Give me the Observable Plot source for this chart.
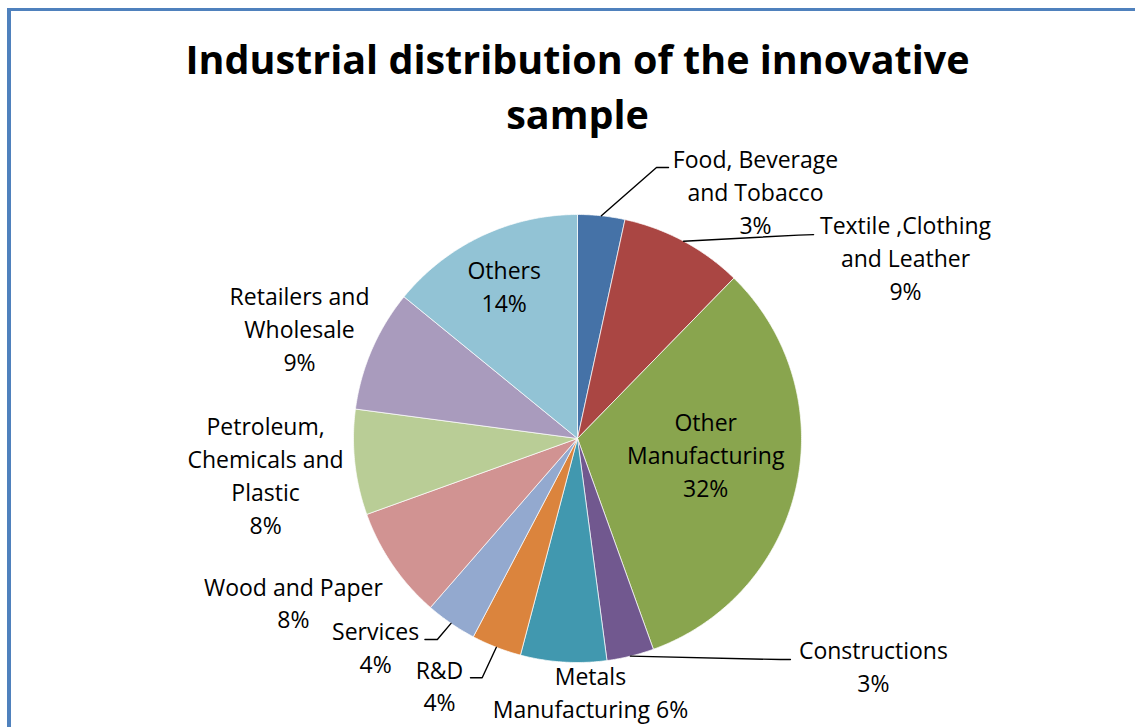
<!DOCTYPE html>
<html>
<head>
<meta charset="utf-8">
<script src="https://cdn.jsdelivr.net/npm/d3@7"></script>
<script src="https://cdn.jsdelivr.net/npm/@observablehq/plot@0.6"></script>
<style>
  html, body { margin: 0; padding: 0; background: #fff; overflow: hidden; }
  #chart { position: absolute; left: 0; top: 0; }
  #border { position: absolute; left: 7px; top: 8px; width: 1140px; height: 716px;
    border-left: 4px solid #4F81BD; border-top: 3px solid #4F81BD; border-bottom: 1px solid #8EB4E3;
    border-right: none; pointer-events: none; box-sizing: content-box; }
</style>
</head>
<body>
<div id="chart"></div>
<div id="border"></div>
<script>
// ---- data ----
const title = "Industrial distribution of the innovative\nsample";
const categories = [
  "Food, Beverage and Tobacco",
  "Textile ,Clothing and Leather",
  "Other Manufacturing",
  "Constructions",
  "Metals Manufacturing",
  "R&D",
  "Services",
  "Wood and Paper",
  "Petroleum, Chemicals and Plastic",
  "Retailers and Wholesale",
  "Others"
];
const shares = [3.4, 8.9, 32.2, 3.4, 6.2, 3.6, 3.7, 8.1, 7.6, 8.8, 14.1];
const colors = ["#4572A7", "#AA4643", "#89A54E", "#71588F", "#4198AF", "#DB843D",
                "#93A9CF", "#D19392", "#B9CD96", "#A99BBD", "#92C3D5"];

// ---- label layout (wrapping, polar placement in pie radii, leader offsets in px) ----
const labelLayout = [
  {text: "Food, Beverage\nand Tobacco", sep: "\n", angle: 36.0, r: 1.352, leader: [[-99, -26], [-87, -26]]},
  {text: "Textile ,Clothing\nand Leather", sep: "\n", angle: 61.4, r: 1.668, leader: [[-107, -24.5], [-92, -25]]},
  {text: "Other\nManufacturing", sep: "\n", angle: 98.0, r: 0.578},
  {text: "Constructions", sep: "\n", angle: 127.8, r: 1.672, leader: [[-93, -8.5], [-83, -8.5]]},
  {text: "Metals\nManufacturing", sep: " ", angle: 177.1, r: 1.142},
  {text: "R&D", sep: "\n", angle: 209.0, r: 1.271, leader: [[42.7, -9.7], [31, -9.7]]},
  {text: "Services", sep: "\n", angle: 223.8, r: 1.302, leader: [[61.7, -9.5], [49.3, -9.5]]},
  {text: "Wood and Paper", sep: "\n", angle: 239.7, r: 1.469},
  {text: "Petroleum,\nChemicals and\nPlastic", sep: "\n", angle: 263.0, r: 1.403},
  {text: "Retailers and\nWholesale", sep: "\n", angle: 291.2, r: 1.331},
  {text: "Others", sep: "\n", angle: 334.1, r: 0.749}
];

// ---- geometry ----
const W = 1135, H = 727, CX = 577, CY = 438, R = 224;
const rows = categories.map((name, i) => ({name, share: shares[i], layout: labelLayout[i]}));
const arcs = d3.pie().sort(null).value(d => d.share)(rows);

const slicePts = arcs.flatMap(a => {
  const n = Math.max(2, Math.ceil((a.endAngle - a.startAngle) / (Math.PI / 360)));
  const pts = [{name: a.data.name, x: 0, y: 0}];
  for (let i = 0; i <= n; i++) {
    const t = a.startAngle + (a.endAngle - a.startAngle) * i / n;
    pts.push({name: a.data.name, x: Math.sin(t), y: Math.cos(t)});
  }
  pts.push({name: a.data.name, x: 0, y: 0});
  return pts;
});

const rad = d => d * Math.PI / 180;
const labels = rows.map(d => {
  const L = d.layout;
  return {
    name: d.name,
    x: L.r * Math.sin(rad(L.angle)),
    y: L.r * Math.cos(rad(L.angle)),
    text: L.text + L.sep + Math.round(d.share) + "%"
  };
});

const leaderPts = arcs.flatMap((a, i) => {
  const L = rows[i].layout;
  if (!L.leader) return [];
  const mid = (a.startAngle + a.endAngle) / 2;
  const lab = labels[i];
  const pts = [{name: a.data.name, x: Math.sin(mid), y: Math.cos(mid)}];
  for (const [dx, dy] of L.leader) pts.push({name: a.data.name, x: lab.x + dx / R, y: lab.y - dy / R});
  return pts;
});

const chart = Plot.plot({
  width: W,
  height: H,
  margin: 0,
  x: {domain: [-CX / R, (W - CX) / R], axis: null},
  y: {domain: [-(H - CY) / R, CY / R], axis: null},
  color: {domain: categories, range: colors},
  style: {fontFamily: "'Open Sans', sans-serif", background: "white"},
  marks: [
    Plot.line(slicePts, {x: "x", y: "y", z: "name", fill: "name", stroke: "white", strokeWidth: 0.7, curve: "linear"}),
    Plot.line(leaderPts, {x: "x", y: "y", z: "name", stroke: "black", strokeWidth: 1.4}),
    Plot.text(labels, {x: "x", y: "y", text: "text", fontSize: 23, lineHeight: 1.43, dy: -3, fill: "black", textAnchor: "middle"}),
    Plot.text([title], {x: () => 0, frameAnchor: "top", dy: 35, text: d => d, fontSize: 39.5, fontWeight: "bold",
      lineHeight: 1.38, fill: "black", textAnchor: "middle"})
  ]
});
document.getElementById("chart").appendChild(chart);
</script>
</body>
</html>
